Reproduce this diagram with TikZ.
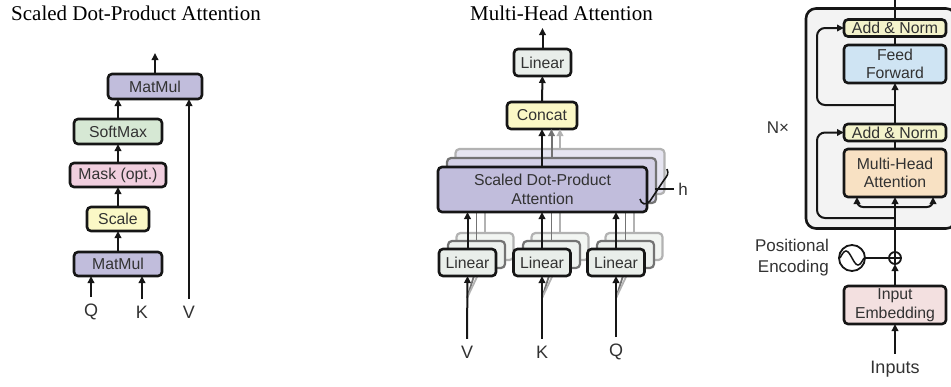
\documentclass[tikz,border=0pt]{standalone}
\usepackage{fontspec}
\setmainfont{Liberation Serif}
\newfontfamily\hv{Liberation Sans}
\usetikzlibrary{arrows.meta,calc}
\definecolor{purp}{RGB}{193,189,220}
\definecolor{sgreen}{RGB}{214,232,212}
\definecolor{mpink}{RGB}{241,207,223}
\definecolor{syel}{RGB}{251,248,198}
\definecolor{lgray}{RGB}{233,238,234}
\definecolor{ayel}{RGB}{244,243,203}
\definecolor{fblue}{RGB}{207,228,243}
\definecolor{morange}{RGB}{248,225,195}
\definecolor{ipink}{RGB}{243,224,224}
\definecolor{bgc}{RGB}{243,243,243}
\definecolor{boxline}{RGB}{22,22,22}
\definecolor{txt}{RGB}{50,50,50}
\begin{document}
\begin{tikzpicture}[x=1pt,y=-1pt,
  box/.style={draw=boxline, line width=2.6pt, rounded corners=4pt, inner sep=0pt, outer sep=0pt,
    font=\hv\fontsize{15.8}{18.5}\selectfont, text=txt, align=center},
  shbox/.style={draw=black!#1, line width=2.2pt, rounded corners=4pt, inner sep=0pt, outer sep=0pt},
  arr/.style={draw=boxline, line width=2pt, -{Triangle[length=7pt,width=6.5pt]}},
  ln/.style={draw=boxline, line width=2pt},
  lbl/.style={inner sep=0pt, outer sep=7pt, font=\hv\fontsize{18}{21}\selectfont, text=txt},
  ttl/.style={font=\fontsize{21}{24}\selectfont, inner sep=0pt},
]
\useasboundingbox (0,0) rectangle (951,386);

% ---------------- Left panel ----------------
\node[ttl] (t1) at (136,13) {Scaled Dot-Product Attention};
\node[box, fill=purp, minimum width=94pt, minimum height=25pt] (mmb) at (155,86.5) {MatMul};
\node[box, fill=sgreen, minimum width=88pt, minimum height=25pt] (sm) at (118,131.5) {SoftMax};
\node[box, fill=mpink, minimum width=96pt, minimum height=24pt] (mask) at (118,175) {Mask (opt.)};
\node[box, fill=syel, minimum width=62pt, minimum height=24pt] (scale) at (118,219) {Scale};
\node[box, fill=purp, minimum width=88pt, minimum height=24pt] (mma) at (118,264) {MatMul};
\node[lbl] (q1) at (91,312) {Q};
\node[lbl] (k1) at (142,312) {K};
\node[lbl] (v1) at (189,312) {V};
\coordinate (o1) at (155,53);
\draw[arr] (q1.north) -- (q1.north |- mma.south);
\draw[arr] (k1.north) -- (k1.north |- mma.south);
\draw[arr] (v1.north) -- (v1.north |- mmb.south);
\draw[arr] (mma) -- (scale);
\draw[arr] (scale) -- (mask);
\draw[arr] (mask) -- (sm);
\draw[arr] (sm.north) -- (sm.north |- mmb.south);
\draw[arr] (mmb.north) -- (o1);

% ---------------- Middle panel ----------------
\node[ttl] (t2) at (561.5,13) {Multi-Head Attention};
% shadows of scaled dot-product attention
\node[shbox=30, fill=purp!40!white, minimum width=209pt, minimum height=45pt] (sd2) at (560,171.5) {};
\node[shbox=55, fill=purp!70!white, minimum width=209pt, minimum height=45pt] (sd1) at (551.5,180.5) {};
% shadows of the linear boxes
\node[shbox=30, fill=lgray!60!white, minimum width=57pt, minimum height=27pt] (la2) at (485,246.5) {};
\node[shbox=55, fill=lgray!80!white, minimum width=57pt, minimum height=27pt] (la1) at (476.5,254.5) {};
\node[shbox=30, fill=lgray!60!white, minimum width=57pt, minimum height=27pt] (lb2) at (560,246.5) {};
\node[shbox=55, fill=lgray!80!white, minimum width=57pt, minimum height=27pt] (lb1) at (551.5,254.5) {};
\node[shbox=30, fill=lgray!60!white, minimum width=57pt, minimum height=27pt] (lc2) at (634,246.5) {};
\node[shbox=55, fill=lgray!80!white, minimum width=57pt, minimum height=27pt] (lc1) at (625.5,254.5) {};
% grey connectors behind
\coordinate (va) at (467,298);
\coordinate (ka) at (542,298);
\coordinate (qa) at (616,298);
\draw[line width=1.8pt, draw=black!55] (va) -- (la1.south) (ka) -- (lb1.south) (qa) -- (lc1.south);
\draw[line width=1.8pt, draw=black!30] (va) -- (la2.south) (ka) -- (lb2.south) (qa) -- (lc2.south);
\draw[line width=1.8pt, draw=black!55] (la1.north) -- (la1.north |- sd1.south) (lb1.north) -- (lb1.north |- sd1.south) (lc1.north) -- (lc1.north |- sd1.south);
\draw[line width=1.8pt, draw=black!30] (la2.north) -- (la2.north |- sd2.south) (lb2.north) -- (lb2.north |- sd2.south) (lc2.north) -- (lc2.north |- sd2.south);
% front boxes
\node[box, fill=purp, minimum width=209pt, minimum height=45pt] (sdpa) at (542.5,189.5) {Scaled Dot-Product\\Attention};
\node[box, fill=lgray, minimum width=57pt, minimum height=27pt] (l1) at (467.5,262.5) {Linear};
\node[box, fill=lgray, minimum width=57pt, minimum height=27pt] (l2) at (542,262.5) {Linear};
\node[box, fill=lgray, minimum width=57pt, minimum height=27pt] (l3) at (616,262.5) {Linear};
\node[box, fill=syel, minimum width=70pt, minimum height=27pt] (concat) at (542,115.5) {Concat};
\node[box, fill=lgray, minimum width=57pt, minimum height=27pt] (lt) at (542.5,62.5) {Linear};
\node[lbl] (v2) at (467,352) {V};
\node[lbl] (k2) at (542,352) {K};
\node[lbl] (q2) at (616,352) {Q};
\coordinate (o2) at (542.5,28);
\draw[arr] (v2.north) -- (l1.south);
\draw[arr] (k2.north) -- (l2.south);
\draw[arr] (q2.north) -- (l3.south);
\draw[arr] (l1.north) -- (l1.north |- sdpa.south);
\draw[arr] (l2.north) -- (l2.north |- sdpa.south);
\draw[arr] (l3.north) -- (l3.north |- sdpa.south);
\draw[arr, draw=black!30] (sd2.north) -- (sd2.north |- concat.south);
\draw[arr, draw=black!55] (sd1.north) -- (sd1.north |- concat.south);
\draw[arr] (sdpa.north -| concat.south) -- (concat.south);
\draw[arr] (concat) -- (lt);
\draw[arr] (lt.north) -- (o2);
% h brace
\coordinate (hb) at (640,199);
\draw[line width=1.6pt, draw=boxline] (hb) .. controls (641,204) and (646,206) .. (650,201)
  -- (664,180) .. controls (667,176) and (669,174) .. (667,169);
\node[inner sep=0pt, font=\hv\fontsize{17}{19}\selectfont, text=txt] (hl) at (683,189) {h};
\draw[line width=1.3pt, draw=boxline] ([xshift=-4pt]hl.west) -- ++(-19,0);

% ---------------- Right panel ----------------
\node[draw=boxline, fill=bgc, line width=2.6pt, rounded corners=10pt, minimum width=150pt, minimum height=220pt, inner sep=0pt] (enc) at (881,118.5) {};
\node[box, fill=ayel, minimum width=102pt, minimum height=17pt] (an1) at (895,28) {Add \& Norm};
\node[box, fill=fblue, minimum width=102pt, minimum height=38pt] (ff) at (895,64) {Feed\\Forward};
\node[box, fill=ayel, minimum width=102pt, minimum height=17pt] (an2) at (895,132.5) {Add \& Norm};
\node[box, fill=morange, minimum width=102pt, minimum height=48pt] (mha) at (895,173) {Multi-Head\\Attention};
\node[box, fill=ipink, minimum width=102pt, minimum height=38pt] (ie) at (895,305) {Input\\Embedding};
\node[lbl] (inp) at (895,369) {Inputs};
\node[inner sep=0pt, font=\hv\fontsize{17}{20}\selectfont, text=txt] (nx) at (778,128) {N×};
\node[inner sep=0pt, font=\hv\fontsize{17}{21}\selectfont, text=txt, align=right, anchor=east] (pet) at (829,257.5) {Positional\\Encoding};
\node[circle, draw=boxline, line width=1.8pt, fill=white, minimum size=12pt, inner sep=0pt, outer sep=0pt] (pl) at (895,258) {};
\node[circle, draw=boxline, line width=1.8pt, fill=white, minimum size=26pt, inner sep=0pt, outer sep=0pt] (pe) at (852,258) {};
\draw[line width=1.5pt, draw=boxline] (pl.west) -- (pl.east) (pl.north) -- (pl.south);
\draw[line width=1.5pt, draw=boxline] ([xshift=-12pt]pe.center) sin ++(6,-7) cos ++(6,7) sin ++(6,7) cos ++(6,-7);
\coordinate (top) at (895,0);
\coordinate (r1) at (895,105);
\coordinate (r2) at (895,218);
\coordinate (br) at (895,207);
\draw[ln] (an1.north) -- (top);
\draw[ln] (ff.north) -- (an1.south);
\draw[arr] (an2.north) -- (ff.south);
\draw[ln] (mha.north) -- (an2.south);
\draw[arr] (pl.north) -- (mha.south);
\draw[arr, rounded corners=6pt] (br) -| ([xshift=-38pt]mha.south);
\draw[arr, rounded corners=6pt] (br) -| ([xshift=38pt]mha.south);
\draw[arr, rounded corners=8pt] (r1) -| (817,28) -- (an1.west);
\draw[arr, rounded corners=8pt] (r2) -| (817,132.5) -- (an2.west);
\draw[ln] (pe.east) -- (pl.west);
\draw[arr] (ie.north) -- (pl.south);
\draw[arr] (inp.north) -- (ie.south);
\end{tikzpicture}
\end{document}
